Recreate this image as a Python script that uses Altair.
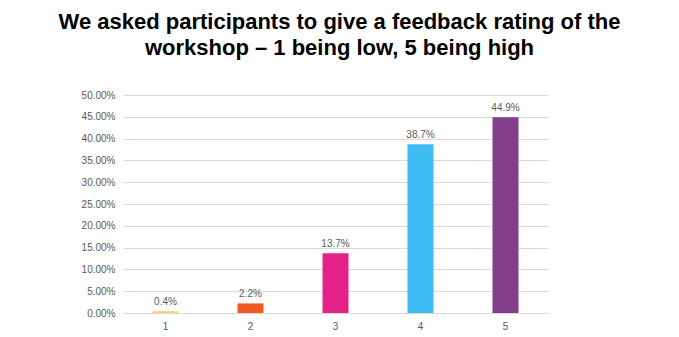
import altair as alt
import pandas as pd

ratings = ["1", "2", "3", "4", "5"]
shares = [0.4, 2.2, 13.7, 38.7, 44.9]
labels = ["0.4%", "2.2%", "13.7%", "38.7%", "44.9%"]
colors = ["#FFD05A", "#F15A22", "#E42186", "#3DBBF3", "#833F8C"]
y_ticks = [0, 5, 10, 15, 20, 25, 30, 35, 40, 45, 50]

df = pd.DataFrame({"rating": ratings, "share": shares, "label": labels})

x = alt.X("rating:N", sort=ratings, title=None,
          scale=alt.Scale(paddingInner=0, paddingOuter=0),
          axis=alt.Axis(labelAngle=0, domain=False, ticks=False, grid=False, labelColor="#595959",
                        labelFont="Liberation Sans", labelFontSize=10, labelPadding=8))
y = alt.Y("share:Q", title=None,
          scale=alt.Scale(domain=[0, 50], nice=False),
          axis=alt.Axis(values=y_ticks, labelExpr="format(datum.value, '.2f') + '%'",
                        labelOverlap=False, domain=False, ticks=False, grid=True,
                        gridColor="#D9D9D9", gridWidth=1, labelColor="#595959",
                        labelFont="Liberation Sans", labelFontSize=10, labelPadding=8))

bars = alt.Chart(df).mark_bar(size=26).encode(
    x=x, y=y,
    color=alt.Color("rating:N", scale=alt.Scale(domain=ratings, range=colors), legend=None),
)
text = alt.Chart(df).mark_text(dy=-9, fontSize=10, color="#595959", font="Liberation Sans").encode(
    x=x, y=y, text="label:N"
)

chart = (bars + text).properties(
    width=425, height=218,
    background="white",
    title=alt.TitleParams(
        ["We asked participants to give a feedback rating of the",
         "workshop \u2013 1 being low, 5 being high"],
        font="Liberation Sans", fontSize=22, fontWeight="bold", color="#000000",
        anchor="middle", frame="group", lineHeight=26, offset=30, dx=4,
    ),
    autosize=alt.AutoSizeParams(type="none"),
    padding={"left": 123, "top": 95, "right": 131, "bottom": 24},
).configure_view(stroke=None)

chart.save("out.html", embed_options={"renderer": "svg", "actions": False})
